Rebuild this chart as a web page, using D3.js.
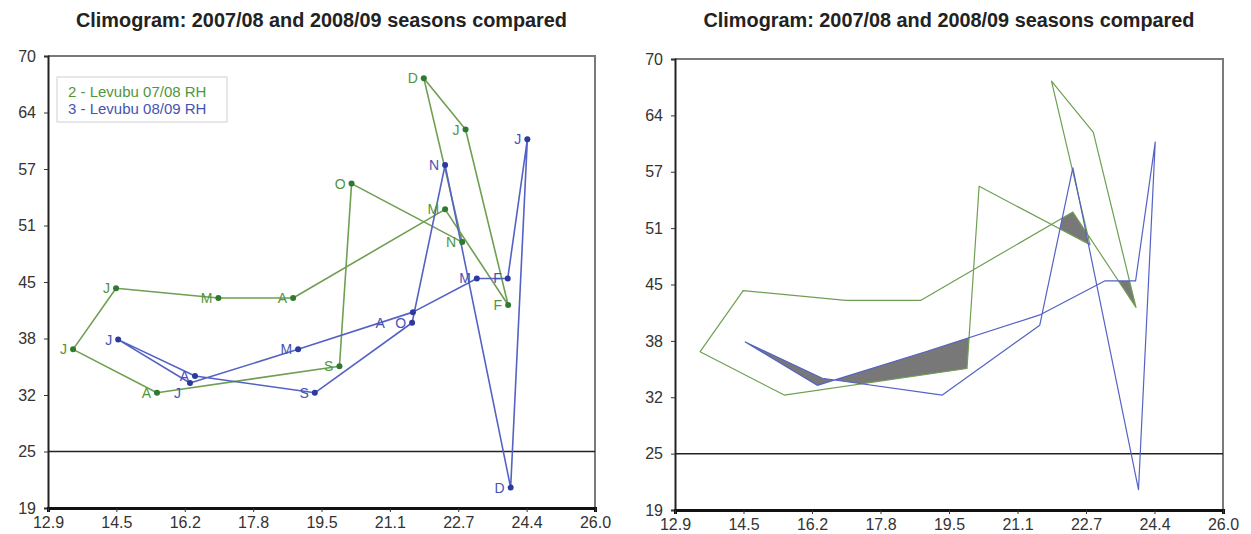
<!DOCTYPE html>
<html>
<head>
<meta charset="utf-8">
<script src="https://cdnjs.cloudflare.com/ajax/libs/d3/7.8.5/d3.min.js"></script>
<style>
  body { margin: 0; background: #fff; }
  svg { display: block; font-family: "Liberation Sans", Arial, sans-serif; }
</style>
</head>
<body>
<svg id="chart" width="1251" height="534"></svg>
<script>
// season runs Jul..Jun
const months = ["J", "A", "S", "O", "N", "D", "J", "F", "M", "A", "M", "J"];
const temp0708 = [13.50, 15.51, 19.88, 20.17, 22.82, 21.90, 22.90, 23.92, 22.41, 18.77, 16.98, 14.53];
const rh0708 = [36.9, 32.0, 35.0, 55.6, 49.0, 67.5, 61.7, 41.9, 52.7, 42.7, 42.7, 43.8];
const temp0809 = [14.58, 16.42, 19.29, 21.62, 22.41, 23.98, 24.38, 23.91, 23.17, 21.64, 18.89, 16.30];
const rh0809 = [38.0, 33.9, 32.0, 39.9, 57.7, 21.3, 60.6, 44.9, 44.9, 41.1, 36.9, 33.1];
const xTickLabels = ["12.9", "14.5", "16.2", "17.8", "19.5", "21.1", "22.7", "24.4", "26.0"];
const yTickLabels = ["19", "25", "32", "38", "45", "51", "57", "64", "70"];
const legendNames = ["2 - Levubu 07/08 RH", "3 - Levubu 08/09 RH"];
const titleText = "Climogram: 2007/08 and 2008/09 seasons compared";
const xDomain = [12.9, 26.0];
const yDomain = [19, 70];
const refLevel = 25.375;

const green = { line: "#6f9f52", dot: "#2e7a2e", text: "#4f9640" };
const blue = { line: "#5462c4", dot: "#2c3a9e", text: "#4454b4" };

const toPoints = (temps, rhs) => temps.map((t, i) => ({ t: t, rh: rhs[i], m: months[i], i: i }));
const s0708 = toPoints(temp0708, rh0708);
const s0809 = toPoints(temp0809, rh0809);

const svg = d3.select("#chart");
svg.append("rect").attr("width", 1251).attr("height", 534).attr("fill", "#fff");
const defs = svg.append("defs");

const drawChart = (box, withLabels, withFill, id) => {
    let x = d3.scaleLinear().domain(xDomain).range([box.left, box.right]);
    let y = d3.scaleLinear().domain(yDomain).range([box.bottom, box.top]);
    let xTicks = xTickLabels.map((d, i) => xDomain[0] + i * (xDomain[1] - xDomain[0]) / 8);
    let yTicks = yTickLabels.map((d, i) => yDomain[0] + i * (yDomain[1] - yDomain[0]) / 8);
    let g = svg.append("g");

    g.append("text")
        .attr("x", (box.left + box.right) / 2)
        .attr("y", 27)
        .attr("text-anchor", "middle")
        .attr("font-family", "'Liberation Sans Narrow', 'Liberation Sans', sans-serif")
        .attr("font-weight", "bold")
        .attr("font-size", 20)
        .attr("textLength", 491)
        .attr("lengthAdjust", "spacingAndGlyphs")
        .attr("fill", "#222")
        .text(titleText);

    // top / right frame
    g.append("path")
        .attr("d", "M" + box.left + "," + box.top + "H" + box.right + "V" + box.bottom)
        .attr("fill", "none")
        .attr("stroke", "#7a7a7a")
        .attr("stroke-width", 2);

    g.append("line")
        .attr("x1", box.left).attr("x2", box.right)
        .attr("y1", y(refLevel)).attr("y2", y(refLevel))
        .attr("stroke", "#222").attr("stroke-width", 1.5);

    let line = d3.line()
        .x(d => x(d.t))
        .y(d => y(d.rh))
        .curve(d3.curveLinearClosed);

    if (withFill) {
        defs.append("clipPath").attr("id", "clip-" + id)
            .append("path")
            .attr("d", line(s0809))
            .attr("clip-rule", "evenodd");
        g.append("path")
            .attr("d", line(s0708))
            .attr("fill", "#787878")
            .attr("fill-rule", "evenodd")
            .attr("clip-path", "url(#clip-" + id + ")");
    }

    let lw = withLabels ? 1.6 : 1.2;
    [[s0708, green], [s0809, blue]].forEach(([data, col]) => {
        g.append("path")
            .attr("d", line(data))
            .attr("fill", "none")
            .attr("stroke", col.line)
            .attr("stroke-width", lw)
            .attr("stroke-linejoin", "round");
    });

    if (withLabels) {
        // a few labels sit off their default spot in the original
        let shift = { "b9": [-22, 11], "b11": [-3, 10] };
        [[s0708, green, "g"], [s0809, blue, "b"]].forEach(([data, col, key]) => {
            g.selectAll(".dot-" + key)
                .data(data)
                .enter().append("circle")
                .attr("cx", d => x(d.t))
                .attr("cy", d => y(d.rh))
                .attr("r", 3)
                .attr("fill", col.dot);
            g.selectAll(".lab-" + key)
                .data(data)
                .enter().append("text")
                .attr("x", d => x(d.t) - 6 + (shift[key + d.i] ? shift[key + d.i][0] : 0))
                .attr("y", d => y(d.rh) + 5 + (shift[key + d.i] ? shift[key + d.i][1] : 0))
                .attr("text-anchor", "end")
                .attr("font-size", 14)
                .attr("fill", col.text)
                .text(d => d.m);
        });

        let lg = g.append("g").attr("transform", "translate(57,77)");
        lg.append("rect")
            .attr("width", 170).attr("height", 45)
            .attr("fill", "#fff")
            .attr("stroke", "#cfcfcf");
        lg.append("text").attr("x", 11).attr("y", 20).attr("font-size", 15)
            .attr("fill", green.text).text(legendNames[0]);
        lg.append("text").attr("x", 11).attr("y", 37).attr("font-size", 15)
            .attr("fill", blue.text).text(legendNames[1]);
    }

    let yAxis = g.append("g")
        .attr("transform", "translate(" + box.left + ",0)")
        .call(d3.axisLeft(y).tickValues(yTicks).tickSize(4).tickPadding(8)
            .tickFormat((d, i) => yTickLabels[i]));
    yAxis.select(".domain").attr("stroke", "#222").attr("stroke-width", 2);

    let xAxis = g.append("g")
        .attr("transform", "translate(0," + box.bottom + ")")
        .call(d3.axisBottom(x).tickValues(xTicks).tickSize(4).tickPadding(5)
            .tickFormat((d, i) => xTickLabels[i]));
    xAxis.select(".domain").attr("stroke", "#111").attr("stroke-width", 3);

    [yAxis, xAxis].forEach(a => {
        a.selectAll("text")
            .attr("font-family", "'Liberation Sans', sans-serif")
            .attr("font-size", 16)
            .attr("fill", "#333");
        a.selectAll(".tick line").attr("stroke", "#333");
    });
}

drawChart({ left: 48, right: 595, top: 56, bottom: 508 }, true, false, "a");
drawChart({ left: 675, right: 1223, top: 59, bottom: 510 }, false, true, "b");
</script>
</body>
</html>
